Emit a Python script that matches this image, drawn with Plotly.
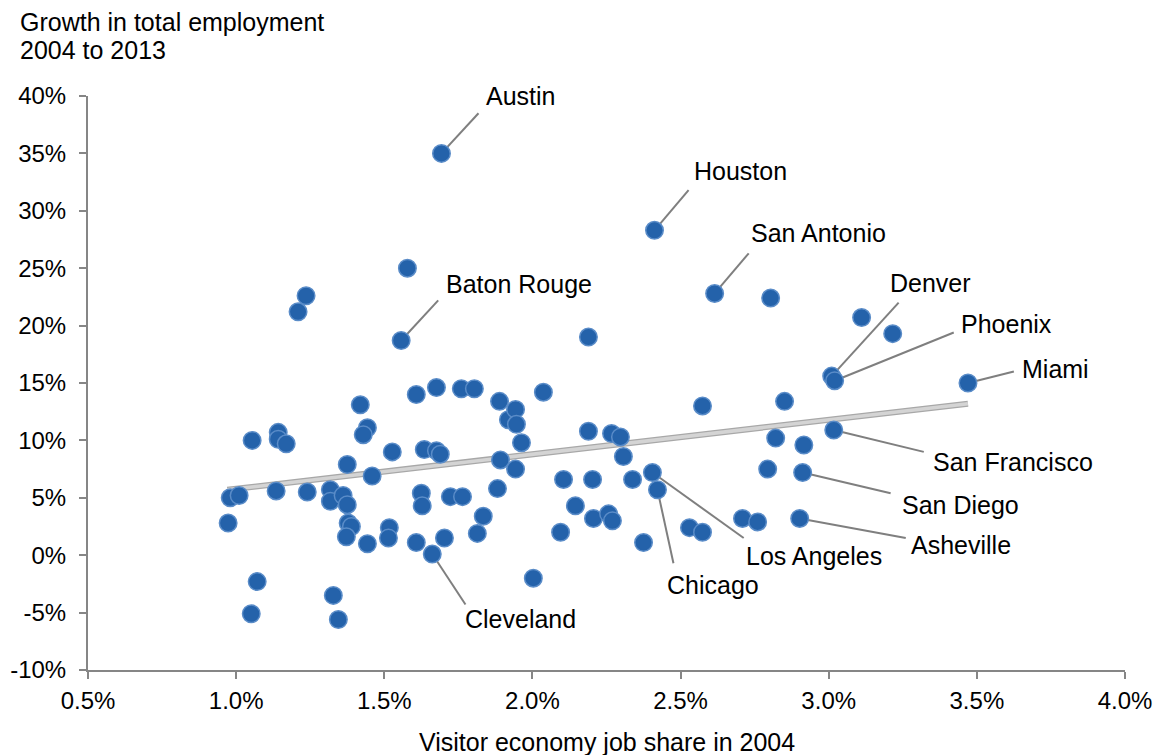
import plotly.graph_objects as go

# visitor economy job share in 2004 (%), employment growth 2004-2013 (%)
job_share = [0.973, 0.980, 1.010, 1.054, 1.071, 1.051, 1.135, 1.142, 1.142, 1.169,
             1.209, 1.236, 1.240, 1.318, 1.318, 1.361, 1.375, 1.375, 1.378, 1.389,
             1.372, 1.328, 1.345, 1.419, 1.443, 1.429, 1.443, 1.459, 1.527, 1.517,
             1.514, 1.557, 1.578, 1.608, 1.608, 1.625, 1.628, 1.635, 1.662, 1.676,
             1.676, 1.689, 1.693, 1.703, 1.723, 1.760, 1.764, 1.804, 1.814, 1.834,
             1.882, 1.889, 1.892, 1.919, 1.943, 1.946, 1.943, 1.963, 2.003, 2.037,
             2.095, 2.105, 2.145, 2.189, 2.189, 2.203, 2.206, 2.257, 2.267, 2.270,
             2.297, 2.307, 2.338, 2.375, 2.405, 2.412, 2.422, 2.530, 2.574, 2.574,
             2.615, 2.709, 2.760, 2.794, 2.804, 2.821, 2.851, 2.902, 2.912, 2.916,
             3.010, 3.020, 3.017, 3.111, 3.216, 3.470]
growth = [2.8, 5.0, 5.2, 10.0, -2.3, -5.1, 5.6, 10.7, 10.1, 9.7,
          21.2, 22.6, 5.5, 5.7, 4.7, 5.2, 4.4, 7.9, 2.8, 2.5,
          1.6, -3.5, -5.6, 13.1, 11.1, 10.5, 1.0, 6.9, 9.0, 2.4,
          1.5, 18.7, 25.0, 14.0, 1.1, 5.4, 4.3, 9.2, 0.1, 14.6,
          9.1, 8.8, 35.0, 1.5, 5.1, 14.5, 5.1, 14.5, 1.9, 3.4,
          5.8, 13.4, 8.3, 11.8, 12.7, 11.4, 7.5, 9.8, -2.0, 14.2,
          2.0, 6.6, 4.3, 19.0, 10.8, 6.6, 3.2, 3.6, 10.6, 3.0,
          10.3, 8.6, 6.6, 1.1, 7.2, 28.3, 5.7, 2.4, 2.0, 13.0,
          22.8, 3.2, 2.9, 7.5, 22.4, 10.2, 13.4, 3.2, 7.2, 9.6,
          15.6, 15.2, 10.9, 20.7, 19.3, 15.0]

# labelled metros -> index into the arrays above
labelled = {"Austin": 42, "Houston": 75, "San Antonio": 80, "Baton Rouge": 31,
            "Denver": 90, "Phoenix": 91, "Miami": 95, "San Francisco": 92,
            "San Diego": 88, "Asheville": 87, "Los Angeles": 74, "Chicago": 76,
            "Cleveland": 38}

trend_x = [0.97, 3.47]
trend_y = [5.7, 13.2]

x_ticks = [0.5, 1.0, 1.5, 2.0, 2.5, 3.0, 3.5, 4.0]
y_ticks = [-10, -5, 0, 5, 10, 15, 20, 25, 30, 35, 40]

# leader line end and label centre for each labelled metro (data coords)
label_pos = {
    "Austin": (1.818, 38.5, 1.959, 40.0),
    "Houston": (2.527, 31.8, 2.703, 33.5),
    "San Antonio": (2.730, 26.3, 2.966, 28.1),
    "Baton Rouge": (1.682, 22.2, 1.956, 23.6),
    "Denver": (3.236, 22.0, 3.345, 23.7),
    "Phoenix": (3.422, 19.4, 3.601, 20.1),
    "Miami": (3.625, 16.0, 3.767, 16.2),
    "San Francisco": (3.321, 9.0, 3.622, 8.1),
    "San Diego": (3.209, 5.4, 3.446, 4.4),
    "Asheville": (3.260, 1.5, 3.446, 0.9),
    "Los Angeles": (2.713, 1.5, 2.949, -0.1),
    "Chicago": (2.476, -0.7, 2.608, -2.6),
    "Cleveland": (1.774, -4.3, 1.959, -5.6),
}

FONT = "Liberation Sans, Arial, sans-serif"
AXIS_GREY = "#868686"

fig = go.Figure()

# trend line, drawn as a bordered grey band
fig.add_trace(go.Scatter(x=trend_x, y=trend_y, mode="lines",
                         line=dict(color="#a8a8a8", width=6), hoverinfo="skip"))
fig.add_trace(go.Scatter(x=trend_x, y=trend_y, mode="lines",
                         line=dict(color="#d4d4d4", width=3.5), hoverinfo="skip"))

fig.add_trace(go.Scatter(
    x=job_share, y=growth, mode="markers",
    marker=dict(size=17.5, color="#2462AA", line=dict(color="#5A8CC8", width=1.5)),
    cliponaxis=False))

shapes = []
annotations = []
for name, idx in labelled.items():
    lx, ly, tx, ty = label_pos[name]
    shapes.append(dict(type="line", layer="below", xref="x", yref="y",
                       x0=job_share[idx], y0=growth[idx], x1=lx, y1=ly,
                       line=dict(color="#7f7f7f", width=2)))
    annotations.append(dict(x=tx, y=ty, xref="x", yref="y", text=name,
                            showarrow=False, font=dict(size=25, color="black")))

# y-axis title, two lines at the top left
for text, shift in [("Growth in total employment", 74), ("2004 to 2013", 46)]:
    annotations.append(dict(x=0, y=1, xref="paper", yref="paper", xanchor="left",
                            yanchor="middle", xshift=-70, yshift=shift,
                            showarrow=False, font=dict(size=25, color="black"),
                            text=text))
# x-axis title
annotations.append(dict(x=0.5, y=0, xref="paper", yref="paper", xanchor="center",
                        yanchor="middle", yshift=-72, showarrow=False,
                        font=dict(size=25, color="black"),
                        text="Visitor economy job share in 2004"))

# the page body adds an 8px margin, so the figure is 8px smaller each way
fig.update_layout(
    width=1158, height=747,
    margin=dict(l=80, r=41, t=88, b=85),
    paper_bgcolor="white", plot_bgcolor="white",
    showlegend=False,
    font=dict(family=FONT, size=24, color="black"),
    shapes=shapes, annotations=annotations,
    xaxis=dict(range=[0.5, 4.0], tickvals=x_ticks,
               ticktext=["%.1f%%" % v for v in x_ticks],
               showgrid=False, zeroline=False, showline=True, automargin=False,
               linecolor=AXIS_GREY, linewidth=2, ticks="outside",
               ticklen=7, tickwidth=2, tickcolor=AXIS_GREY,
               ticklabelstandoff=1),
    yaxis=dict(range=[-10, 40], tickvals=y_ticks,
               ticktext=["%d%%" % v for v in y_ticks],
               showgrid=False, zeroline=False, showline=True, automargin=False,
               linecolor=AXIS_GREY, linewidth=2, ticks="outside",
               ticklen=7, tickwidth=2, tickcolor=AXIS_GREY,
               ticklabelstandoff=8),
)

fig.write_html("out.html")
